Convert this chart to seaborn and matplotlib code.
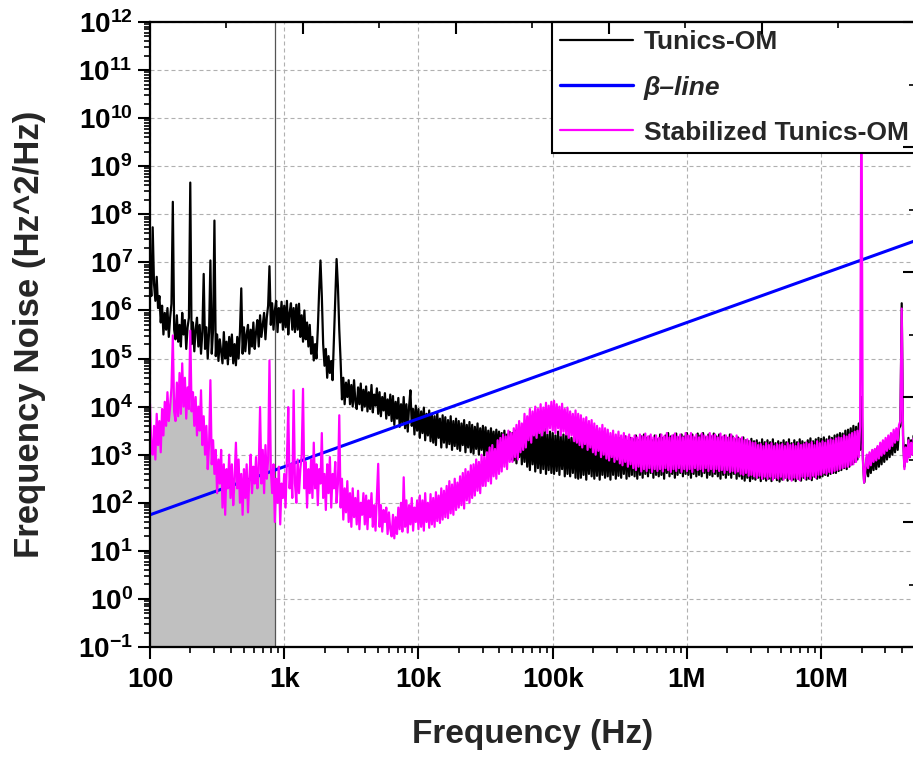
import numpy as np
import pandas as pd
import matplotlib
matplotlib.use("Agg")
import matplotlib.pyplot as plt
from matplotlib.patches import Rectangle
from matplotlib.ticker import FixedLocator, LogLocator, MultipleLocator, NullFormatter
import seaborn as sns

# Sample frequencies as decade exponents (log10 of Hz)
log_freq = [
    2.00, 2.01, 2.02, 2.03, 2.04, 2.05, 2.06, 2.07, 2.08, 2.09,
    2.10, 2.11, 2.12, 2.13, 2.14, 2.15, 2.16, 2.17, 2.18, 2.19,
    2.20, 2.21, 2.22, 2.23, 2.24, 2.25, 2.26, 2.27, 2.28, 2.29,
    2.30, 2.31, 2.32, 2.33, 2.34, 2.35, 2.36, 2.37, 2.38, 2.39,
    2.40, 2.41, 2.42, 2.43, 2.44, 2.45, 2.46, 2.47, 2.48, 2.49,
    2.50, 2.51, 2.52, 2.53, 2.54, 2.55, 2.56, 2.57, 2.58, 2.59,
    2.60, 2.61, 2.62, 2.63, 2.64, 2.65, 2.66, 2.67, 2.68, 2.69,
    2.70, 2.71, 2.72, 2.73, 2.74, 2.75, 2.76, 2.77, 2.78, 2.79,
    2.80, 2.81, 2.82, 2.83, 2.84, 2.85, 2.86, 2.87, 2.88, 2.89,
    2.90, 2.91, 2.92, 2.93, 2.94, 2.95, 2.96, 2.97, 2.98, 2.99,
    3.00, 3.01, 3.02, 3.03, 3.04, 3.05, 3.06, 3.07, 3.08, 3.09,
    3.10, 3.11, 3.12, 3.13, 3.14, 3.15, 3.16, 3.17, 3.18, 3.19,
    3.20, 3.21, 3.22, 3.23, 3.24, 3.25, 3.26, 3.27, 3.28, 3.29,
    3.30, 3.31, 3.32, 3.33, 3.34, 3.35, 3.36, 3.37, 3.38, 3.39,
    3.40, 3.41, 3.42, 3.43, 3.44, 3.45, 3.46, 3.47, 3.48, 3.49,
    3.50, 3.51, 3.52, 3.53, 3.54, 3.55, 3.56, 3.57, 3.58, 3.59,
    3.60, 3.61, 3.62, 3.63, 3.64, 3.65, 3.66, 3.67, 3.68, 3.69,
    3.70, 3.71, 3.72, 3.73, 3.74, 3.75, 3.76, 3.77, 3.78, 3.79,
    3.80, 3.81, 3.82, 3.83, 3.84, 3.85, 3.86, 3.87, 3.88, 3.89,
    3.90, 3.91, 3.92, 3.93, 3.94, 3.95, 3.96, 3.97, 3.98, 3.99,
    4.00, 4.01, 4.02, 4.03, 4.04, 4.05, 4.06, 4.07, 4.08, 4.09,
    4.10, 4.11, 4.12, 4.13, 4.14, 4.15, 4.16, 4.17, 4.18, 4.19,
    4.20, 4.21, 4.22, 4.23, 4.24, 4.25, 4.26, 4.27, 4.28, 4.29,
    4.30, 4.31, 4.32, 4.33, 4.34, 4.35, 4.36, 4.37, 4.38, 4.39,
    4.40, 4.41, 4.42, 4.43, 4.44, 4.45, 4.46, 4.47, 4.48, 4.49,
    4.50, 4.51, 4.52, 4.53, 4.54, 4.55, 4.56, 4.57, 4.58, 4.59,
    4.60, 4.61, 4.62, 4.63, 4.64, 4.65, 4.66, 4.67, 4.68, 4.69,
    4.70, 4.71, 4.72, 4.73, 4.74, 4.75, 4.76, 4.77, 4.78, 4.79,
    4.80, 4.81, 4.82, 4.83, 4.84, 4.85, 4.86, 4.87, 4.88, 4.89,
    4.90, 4.91, 4.92, 4.93, 4.94, 4.95, 4.96, 4.97, 4.98, 4.99,
    5.00, 5.01, 5.02, 5.03, 5.04, 5.05, 5.06, 5.07, 5.08, 5.09,
    5.10, 5.11, 5.12, 5.13, 5.14, 5.15, 5.16, 5.17, 5.18, 5.19,
    5.20, 5.21, 5.22, 5.23, 5.24, 5.25, 5.26, 5.27, 5.28, 5.29,
    5.30, 5.31, 5.32, 5.33, 5.34, 5.35, 5.36, 5.37, 5.38, 5.39,
    5.40, 5.41, 5.42, 5.43, 5.44, 5.45, 5.46, 5.47, 5.48, 5.49,
    5.50, 5.51, 5.52, 5.53, 5.54, 5.55, 5.56, 5.57, 5.58, 5.59,
    5.60, 5.61, 5.62, 5.63, 5.64, 5.65, 5.66, 5.67, 5.68, 5.69,
    5.70, 5.71, 5.72, 5.73, 5.74, 5.75, 5.76, 5.77, 5.78, 5.79,
    5.80, 5.81, 5.82, 5.83, 5.84, 5.85, 5.86, 5.87, 5.88, 5.89,
    5.90, 5.91, 5.92, 5.93, 5.94, 5.95, 5.96, 5.97, 5.98, 5.99,
    6.00, 6.01, 6.02, 6.03, 6.04, 6.05, 6.06, 6.07, 6.08, 6.09,
    6.10, 6.11, 6.12, 6.13, 6.14, 6.15, 6.16, 6.17, 6.18, 6.19,
    6.20, 6.21, 6.22, 6.23, 6.24, 6.25, 6.26, 6.27, 6.28, 6.29,
    6.30, 6.31, 6.32, 6.33, 6.34, 6.35, 6.36, 6.37, 6.38, 6.39,
    6.40, 6.41, 6.42, 6.43, 6.44, 6.45, 6.46, 6.47, 6.48, 6.49,
    6.50, 6.51, 6.52, 6.53, 6.54, 6.55, 6.56, 6.57, 6.58, 6.59,
    6.60, 6.61, 6.62, 6.63, 6.64, 6.65, 6.66, 6.67, 6.68, 6.69,
    6.70, 6.71, 6.72, 6.73, 6.74, 6.75, 6.76, 6.77, 6.78, 6.79,
    6.80, 6.81, 6.82, 6.83, 6.84, 6.85, 6.86, 6.87, 6.88, 6.89,
    6.90, 6.91, 6.92, 6.93, 6.94, 6.95, 6.96, 6.97, 6.98, 6.99,
    7.00, 7.01, 7.02, 7.03, 7.04, 7.05, 7.06, 7.07, 7.08, 7.09,
    7.10, 7.11, 7.12, 7.13, 7.14, 7.15, 7.16, 7.17, 7.18, 7.19,
    7.20, 7.21, 7.22, 7.23, 7.24, 7.25, 7.26, 7.27, 7.28, 7.29,
    7.30, 7.31, 7.32, 7.33, 7.34, 7.35, 7.36, 7.37, 7.38, 7.39,
    7.40, 7.41, 7.42, 7.43, 7.44, 7.45, 7.46, 7.47, 7.48, 7.49,
    7.50, 7.51, 7.52, 7.53, 7.54, 7.55, 7.56, 7.57, 7.58, 7.59,
    7.60, 7.61, 7.62, 7.63, 7.64, 7.65, 7.66, 7.67, 7.68, 7.69,
    7.70,
]

# Free-running laser frequency noise PSD, log10(Hz^2/Hz)
tunics_om_log = [
    6.75, 6.30, 7.73, 6.55, 6.20, 6.70, 6.05, 6.30, 5.75, 6.10,
    5.50, 5.95, 5.60, 6.05, 5.45, 5.85, 6.14, 8.26, 5.60, 5.40,
    5.90, 5.35, 5.70, 5.25, 5.95, 5.50, 5.80, 5.20, 5.65, 5.85,
    8.66, 5.30, 5.75, 5.15, 5.60, 5.85, 5.25, 5.70, 5.10, 5.55,
    6.76, 5.20, 5.65, 5.00, 5.55, 7.04, 5.10, 5.60, 7.87, 5.05,
    5.50, 4.95, 5.40, 5.15, 4.90, 5.55, 5.00, 5.35, 4.88, 5.45,
    5.05, 5.50, 4.90, 5.30, 4.86, 5.45, 5.00, 5.55, 6.46, 5.10,
    5.65, 5.15, 5.50, 5.70, 5.10, 5.60, 5.25, 5.75, 5.20, 5.55,
    5.80, 5.25, 5.90, 5.45, 5.70, 5.95, 5.40, 5.85, 6.10, 6.92,
    5.70, 6.15, 5.60, 6.00, 6.20, 5.55, 6.05, 5.75, 6.18, 5.60,
    6.10, 5.65, 6.20, 5.50, 5.95, 6.15, 5.60, 6.05, 5.55, 6.12,
    5.60, 6.14, 5.45, 5.90, 5.35, 6.00, 5.40, 5.75, 5.25, 5.70,
    5.10, 5.45, 4.96, 5.30, 5.00, 5.60, 6.40, 7.04, 6.30, 5.30,
    4.85, 5.20, 4.60, 5.05, 4.70, 4.95, 4.55, 5.40, 6.30, 7.07,
    6.50, 5.60, 4.95, 4.15, 4.60, 4.05, 4.50, 4.20, 4.55, 4.05,
    4.45, 4.00, 4.55, 4.10, 3.95, 4.40, 4.05, 4.48, 3.92, 4.35,
    4.00, 4.42, 3.90, 4.30, 3.95, 4.45, 3.88, 4.25, 4.02, 4.38,
    3.85, 4.30, 3.80, 4.20, 3.92, 4.28, 3.75, 4.15, 3.82, 4.25,
    3.70, 4.22, 3.62, 4.10, 3.75, 4.18, 3.58, 4.05, 3.65, 4.20,
    3.55, 4.05, 3.48, 4.00, 4.34, 3.60, 3.95, 3.42, 4.02, 3.50,
    3.95, 3.35, 3.90, 3.45, 3.98, 3.30, 3.85, 3.40, 3.92, 3.28,
    3.85, 3.25, 3.80, 3.20, 3.88, 3.35, 3.75, 3.15, 3.82, 3.25,
    3.78, 3.15, 3.72, 3.22, 3.80, 3.10, 3.70, 3.18, 3.75, 3.12,
    3.70, 3.08, 3.65, 3.20, 3.72, 3.05, 3.62, 3.15, 3.68, 3.05,
    3.62, 3.02, 3.58, 3.12, 3.65, 3.00, 3.55, 3.10, 3.60, 2.98,
    3.57, 3.05, 3.50, 2.98, 3.55, 3.08, 3.48, 2.96, 3.52, 3.02,
    3.48, 2.95, 3.45, 3.05, 3.50, 2.92, 3.42, 3.00, 3.47, 2.90,
    3.45, 2.88, 3.50, 2.82, 3.40, 2.95, 3.52, 2.80, 3.45, 2.85,
    3.55, 2.75, 3.48, 2.68, 3.57, 2.80, 3.45, 2.65, 3.50, 2.72,
    3.50, 2.62, 3.45, 2.70, 3.55, 2.60, 3.42, 2.68, 3.48, 2.62,
    3.45, 2.60, 3.40, 2.66, 3.48, 2.58, 3.38, 2.70, 3.42, 2.55,
    3.40, 2.60, 3.45, 2.55, 3.35, 2.62, 3.42, 2.52, 3.38, 2.50,
    3.38, 2.52, 3.30, 2.58, 3.35, 2.48, 3.28, 2.60, 3.36, 2.55,
    3.32, 2.50, 3.28, 2.56, 3.35, 2.48, 3.30, 2.58, 3.25, 2.52,
    3.30, 2.55, 3.35, 2.48, 3.28, 2.58, 3.32, 2.50, 3.26, 2.56,
    3.34, 2.52, 3.30, 2.60, 3.38, 2.50, 3.28, 2.55, 3.35, 2.58,
    3.32, 2.55, 3.40, 2.50, 3.30, 2.58, 3.38, 2.52, 3.42, 2.60,
    3.35, 2.55, 3.38, 2.62, 3.30, 2.52, 3.40, 2.58, 3.32, 2.55,
    3.42, 2.58, 3.35, 2.50, 3.40, 2.62, 3.45, 2.55, 3.38, 2.60,
    3.40, 2.52, 3.44, 2.58, 3.36, 2.62, 3.42, 2.55, 3.38, 2.60,
    3.45, 2.58, 3.38, 2.52, 3.42, 2.60, 3.35, 2.55, 3.44, 2.58,
    3.40, 2.55, 3.45, 2.62, 3.36, 2.52, 3.42, 2.58, 3.38, 2.55,
    3.44, 2.60, 3.38, 2.55, 3.42, 2.50, 3.36, 2.58, 3.40, 2.52,
    3.35, 2.58, 3.42, 2.52, 3.38, 2.60, 3.32, 2.50, 3.36, 2.55,
    3.32, 2.50, 3.36, 2.46, 3.30, 2.52, 3.28, 2.45, 3.33, 2.50,
    3.28, 2.48, 3.30, 2.52, 3.25, 2.45, 3.32, 2.50, 3.26, 2.46,
    3.30, 2.50, 3.26, 2.45, 3.32, 2.52, 3.24, 2.47, 3.28, 2.44,
    3.25, 2.48, 3.30, 2.52, 3.26, 2.46, 3.32, 2.50, 3.24, 2.48,
    3.30, 2.45, 3.26, 2.50, 3.32, 2.46, 3.28, 2.52, 3.25, 2.48,
    3.30, 2.50, 3.34, 2.47, 3.28, 2.54, 3.32, 2.50, 3.35, 2.52,
    3.33, 2.55, 3.36, 2.58, 3.32, 2.56, 3.38, 2.60, 3.35, 2.62,
    3.40, 2.62, 3.42, 2.66, 3.45, 2.68, 3.44, 2.72, 3.50, 2.70,
    3.52, 2.75, 3.55, 2.80, 3.60, 2.85, 3.58, 2.90, 3.65, 3.10,
    4.20, 3.00, 2.42, 2.60, 2.95, 2.55, 3.00, 2.62, 3.05, 2.68,
    3.10, 2.70, 3.15, 2.75, 3.20, 2.80, 3.25, 2.85, 3.28, 2.90,
    3.30, 2.95, 3.35, 3.00, 3.42, 3.05, 3.48, 3.10, 3.55, 3.60,
    6.15, 3.40, 2.75, 3.20, 2.90, 3.35, 2.95, 3.30, 3.00, 3.40,
    3.00,
]

# Stabilized laser frequency noise PSD, log10(Hz^2/Hz)
stabilized_log = [
    4.06, 3.10, 3.00, 3.60, 2.90, 3.85, 3.20, 3.70, 3.05, 3.95,
    3.40, 4.10, 3.60, 4.30, 3.70, 4.00, 4.40, 5.48, 3.90, 3.70,
    4.50, 3.80, 4.70, 3.85, 4.90, 4.00, 4.60, 3.75, 4.40, 3.95,
    5.58, 3.90, 4.30, 3.60, 4.20, 3.40, 4.00, 3.50, 4.34, 3.20,
    3.80, 3.00, 3.60, 2.70, 3.20, 4.55, 2.80, 3.30, 2.60, 3.10,
    2.20, 2.90, 2.40, 3.10, 1.90, 2.80, 1.75, 2.70, 2.30, 3.00,
    2.10, 2.80, 1.95, 2.50, 3.25, 2.30, 2.90, 2.00, 2.60, 1.75,
    2.70, 2.10, 2.80, 1.80, 2.50, 3.00, 2.20, 2.75, 2.40, 2.95,
    2.30, 2.70, 3.99, 2.40, 3.10, 2.20, 3.20, 2.50, 2.90, 4.96,
    2.70, 2.20, 2.80, 1.60, 2.50, 2.00, 2.75, 1.55, 2.40, 2.10,
    2.60, 1.90, 2.90, 3.99, 2.30, 2.80, 2.10, 4.34, 2.40, 2.00,
    2.90, 2.20, 2.70, 3.00, 4.37, 2.30, 2.85, 1.90, 2.70, 2.20,
    2.90, 2.10, 3.25, 2.30, 2.80, 1.95, 2.70, 2.40, 3.45, 2.10,
    2.60, 1.85, 2.80, 2.20, 2.95, 1.90, 2.60, 2.30, 2.85, 2.00,
    2.40, 3.82, 1.90, 2.50, 1.65, 2.30, 1.80, 2.45, 1.60, 2.20,
    1.50, 2.30, 1.70, 2.10, 1.55, 2.25, 1.45, 2.00, 1.75, 2.20,
    1.55, 2.15, 1.45, 2.05, 1.70, 2.20, 1.50, 1.95, 1.42, 2.10,
    2.81, 1.50, 1.95, 1.40, 1.85, 1.60, 1.90, 1.35, 1.80, 1.45,
    1.30, 1.75, 1.26, 1.70, 1.35, 1.90, 1.45, 2.00, 1.40, 2.53,
    1.50, 2.05, 1.38, 1.95, 1.55, 2.10, 1.42, 1.90, 1.60, 2.05,
    1.45, 2.15, 1.50, 2.05, 1.42, 2.20, 1.60, 2.00, 1.48, 2.18,
    1.55, 2.10, 1.50, 2.22, 1.62, 2.15, 1.58, 2.30, 1.65, 2.25,
    1.70, 2.35, 1.68, 2.45, 1.78, 2.38, 1.75, 2.50, 1.85, 2.42,
    1.90, 2.55, 1.95, 2.62, 1.88, 2.70, 2.05, 2.65, 2.00, 2.78,
    2.10, 2.80, 2.15, 2.90, 2.25, 2.85, 2.20, 3.00, 2.35, 2.95,
    2.35, 3.05, 2.45, 3.15, 2.40, 3.20, 2.55, 3.12, 2.50, 3.30,
    2.60, 3.35, 2.65, 3.42, 2.75, 3.38, 2.70, 3.50, 2.85, 3.45,
    2.85, 3.55, 2.95, 3.62, 2.90, 3.70, 3.05, 3.65, 3.10, 3.85,
    3.15, 3.80, 3.30, 3.95, 3.25, 3.90, 3.40, 4.00, 3.35, 3.95,
    3.45, 4.05, 3.40, 3.98, 3.50, 4.08, 3.45, 4.02, 3.55, 4.10,
    3.50, 4.12, 3.45, 4.05, 3.55, 4.00, 3.40, 4.06, 3.48, 3.95,
    3.42, 3.98, 3.35, 3.90, 3.40, 3.85, 3.28, 3.92, 3.25, 3.85,
    3.20, 3.82, 3.15, 3.75, 3.22, 3.78, 3.10, 3.70, 3.15, 3.72,
    3.05, 3.65, 3.00, 3.60, 3.08, 3.55, 2.95, 3.62, 3.00, 3.55,
    2.92, 3.52, 2.88, 3.45, 2.95, 3.50, 2.85, 3.42, 2.90, 3.48,
    2.82, 3.40, 2.78, 3.45, 2.85, 3.38, 2.75, 3.42, 2.80, 3.35,
    2.72, 3.40, 2.68, 3.36, 2.75, 3.42, 2.65, 3.38, 2.70, 3.44,
    2.66, 3.38, 2.72, 3.42, 2.64, 3.36, 2.70, 3.40, 2.66, 3.35,
    2.70, 3.42, 2.65, 3.38, 2.72, 3.45, 2.68, 3.36, 2.64, 3.40,
    2.70, 3.44, 2.66, 3.38, 2.72, 3.42, 2.64, 3.36, 2.70, 3.45,
    2.66, 3.40, 2.70, 3.45, 2.64, 3.38, 2.72, 3.42, 2.68, 3.36,
    2.70, 3.44, 2.65, 3.40, 2.72, 3.38, 2.66, 3.45, 2.70, 3.40,
    2.64, 3.42, 2.70, 3.36, 2.66, 3.44, 2.68, 3.38, 2.62, 3.40,
    2.68, 3.36, 2.64, 3.42, 2.66, 3.35, 2.62, 3.40, 2.65, 3.34,
    2.60, 3.36, 2.58, 3.30, 2.62, 3.32, 2.56, 3.28, 2.58, 3.25,
    2.55, 3.25, 2.52, 3.20, 2.56, 3.22, 2.50, 3.18, 2.54, 3.24,
    2.50, 3.20, 2.54, 3.24, 2.48, 3.18, 2.52, 3.22, 2.50, 3.20,
    2.54, 3.22, 2.48, 3.18, 2.52, 3.24, 2.50, 3.20, 2.46, 3.22,
    2.52, 3.18, 2.50, 3.24, 2.47, 3.20, 2.54, 3.22, 2.50, 3.25,
    2.55, 3.22, 2.50, 3.26, 2.56, 3.20, 2.52, 3.28, 2.58, 3.24,
    2.58, 3.28, 2.62, 3.25, 2.60, 3.30, 2.64, 3.32, 2.62, 3.30,
    2.66, 3.34, 2.68, 3.36, 2.70, 3.35, 2.72, 3.40, 2.74, 3.38,
    2.75, 3.42, 2.78, 3.45, 2.80, 3.48, 2.85, 3.50, 2.95, 3.60,
    11.00, 2.90, 2.42, 2.70, 3.00, 2.72, 3.05, 2.78, 3.10, 2.85,
    3.12, 2.88, 3.18, 2.92, 3.25, 2.98, 3.30, 3.02, 3.35, 3.08,
    3.40, 3.12, 3.45, 3.18, 3.52, 3.25, 3.55, 3.30, 3.62, 3.70,
    6.04, 3.30, 2.70, 3.15, 2.85, 3.30, 2.95, 3.25, 3.00, 3.35,
    3.00,
]

# beta-separation line end points (Hz, Hz^2/Hz)
beta_line_hz = [100.0, 5.0e7]
beta_line_psd = [56.2, 2.81e7]

# upper edge of the shaded low-frequency band (Hz)
stable_band_edge_hz = 855.0

freq_ticks = [1e2, 1e3, 1e4, 1e5, 1e6, 1e7]
freq_tick_labels = ["100", "1k", "10k", "100k", "1M", "10M"]
noise_exponents = [-1, 0, 1, 2, 3, 4, 5, 6, 7, 8, 9, 10, 11, 12]

sns.set_theme(style="ticks")
plt.rcParams.update({
    "font.weight": "bold",
    "axes.labelweight": "bold",
    "mathtext.fontset": "custom",
    "mathtext.rm": "Liberation Sans:bold",
    "mathtext.bf": "Liberation Sans:bold",
    "mathtext.it": "Liberation Sans:bold:italic",
    "mathtext.default": "bf",
    "axes.linewidth": 1.5,
    "axes.edgecolor": "black",
})
plt.rcParams["font.family"] = ["Liberation Sans", "DejaVu Sans"]

df = pd.DataFrame({
    "freq": 10.0 ** np.asarray(log_freq),
    "tunics": 10.0 ** np.asarray(tunics_om_log),
    "stabilized": 10.0 ** np.asarray(stabilized_log),
})

W, H = 913, 757
fig = plt.figure(figsize=(W / 100, H / 100), dpi=100)
ax = fig.add_axes([150 / W, 110 / H, 765 / W, 625 / H])
ax.set_xscale("log")
ax.set_yscale("log")

x_lo, x_hi = 100.0, 5.0e7
y_lo, y_hi = 0.1, 1.0e12

# grey band under the stabilized trace, clipped at the band edge
band = ax.fill_between(df["freq"], y_lo, df["stabilized"], color="#c0c0c0", lw=0, zorder=1)
band.set_clip_path(Rectangle((x_lo, y_lo), stable_band_edge_hz - x_lo, y_hi,
                             transform=ax.transData))
ax.axvline(stable_band_edge_hz, color="#555555", lw=0.9, zorder=2)

sns.lineplot(data=df, x="freq", y="tunics", ax=ax, color="black", lw=1.6,
             estimator=None, sort=False, label="Tunics-OM", zorder=3)
sns.lineplot(x=beta_line_hz, y=beta_line_psd, ax=ax, color="#0000ff", lw=2.2,
             estimator=None, sort=False, label="β–line", zorder=4)
sns.lineplot(data=df, x="freq", y="stabilized", ax=ax, color="#ff00ff", lw=1.6,
             estimator=None, sort=False, label="Stabilized Tunics-OM", zorder=5)

ax.set_xlim(x_lo, x_hi)
ax.set_ylim(y_lo, y_hi)

ax.grid(True, which="major", color="#b0b0b0", lw=0.8, ls=(0, (3.6, 2.7)), zorder=0.5)
ax.grid(False, which="minor")

ax.xaxis.set_major_locator(FixedLocator(freq_ticks))
ax.set_xticklabels(freq_tick_labels)
ax.xaxis.set_minor_locator(LogLocator(base=10, subs=np.arange(2, 10), numticks=50))
ax.xaxis.set_minor_formatter(NullFormatter())

ax.yaxis.set_major_locator(FixedLocator([10.0 ** e for e in noise_exponents]))
ax.set_yticklabels([f"$10^{{{e}}}$" for e in noise_exponents])
ax.yaxis.set_minor_locator(LogLocator(base=10, subs=np.arange(2, 10), numticks=50))
ax.yaxis.set_minor_formatter(NullFormatter())

ax.tick_params(which="major", direction="out", length=8.5, width=1.5, labelsize=20,
               top=False, right=False, color="black", labelcolor="black")
ax.tick_params(which="minor", direction="out", length=4.5, width=1.2,
               top=False, right=False, color="black")
ax.tick_params(axis="x", pad=6)
ax.tick_params(axis="y", pad=4)

ax.set_xlabel("Frequency (Hz)", fontsize=24, fontweight="bold")
ax.set_ylabel("Frequency Noise (Hz^2/Hz)", fontsize=25, fontweight="bold")
ax.xaxis.label.set_va("center")
ax.yaxis.label.set_va("center")
ax.xaxis.set_label_coords(0.5, (647 - 735) / 625)
ax.yaxis.set_label_coords((30 - 150) / 765, 0.5)

leg = ax.legend(loc="upper left", bbox_to_anchor=((552 - 150) / 765, 1.0),
                borderaxespad=0, frameon=True, fancybox=False, framealpha=1,
                edgecolor="black", prop={"weight": "bold", "size": 19},
                handlelength=2.75, handletextpad=0.4, labelspacing=0.8,
                borderpad=0.32)
leg.get_frame().set_linewidth(1.5)
leg.get_texts()[1].set_fontstyle("italic")
for line, w in zip(leg.get_lines(), [1.6, 2.4, 1.6]):
    line.set_linewidth(w)

# linked linear top and right axes with inward ticks
ax_top = ax.twiny()
ax_top.set_xscale("linear")
ax_top.set_xlim(x_lo, x_hi)
ax_top.xaxis.set_major_locator(MultipleLocator(1e7))
ax_top.xaxis.set_minor_locator(MultipleLocator(5e6))
ax_top.tick_params(axis="x", which="both", direction="in", top=True, bottom=False,
                   labeltop=False, labelbottom=False, color="black")
ax_top.tick_params(axis="x", which="major", length=8.5, width=1.5)
ax_top.tick_params(axis="x", which="minor", length=4.5, width=1.2)

ax_right = ax.twinx()
ax_right.set_yscale("linear")
ax_right.set_ylim(y_lo, y_hi)
ax_right.yaxis.set_major_locator(MultipleLocator(2e11))
ax_right.yaxis.set_minor_locator(MultipleLocator(1e11))
ax_right.tick_params(axis="y", which="both", direction="in", right=True, left=False,
                     labelright=False, labelleft=False, color="black")
ax_right.tick_params(axis="y", which="major", length=8.5, width=1.5)
ax_right.tick_params(axis="y", which="minor", length=4.5, width=1.2)

fig.savefig("out.png", dpi=100)
